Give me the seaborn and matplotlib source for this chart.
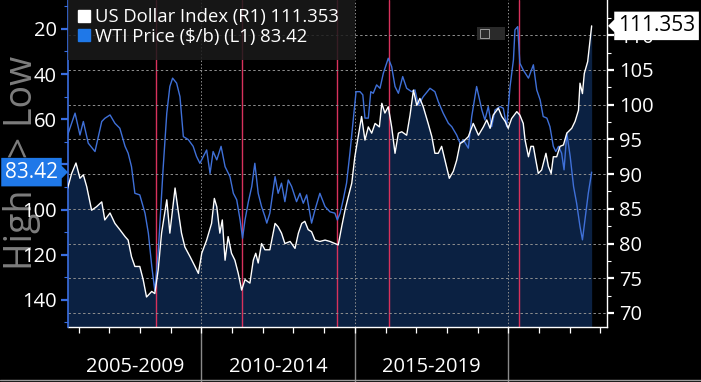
import numpy as np
import pandas as pd
import matplotlib
matplotlib.use("Agg")
import matplotlib.pyplot as plt
import matplotlib.transforms as mtransforms
from matplotlib.lines import Line2D
from matplotlib.path import Path
from matplotlib.patches import Rectangle
import seaborn as sns

# ---------------- data ----------------
dxy_dates = [2005.62, 2005.77, 2005.91, 2006.04, 2006.15, 2006.26, 2006.42, 2006.58, 2006.75, 2006.85,
             2007.02, 2007.18, 2007.34, 2007.51, 2007.61, 2007.72, 2007.83, 2007.99, 2008.10, 2008.21,
             2008.38, 2008.48, 2008.59, 2008.70, 2008.87, 2008.97, 2009.14, 2009.24, 2009.35, 2009.46,
             2009.63, 2009.79, 2009.90, 2010.01, 2010.17, 2010.33, 2010.42, 2010.50, 2010.60, 2010.68,
             2010.77, 2010.87, 2010.98, 2011.09, 2011.20, 2011.31, 2011.42, 2011.58, 2011.69, 2011.77,
             2011.85, 2011.96, 2012.07, 2012.23, 2012.40, 2012.50, 2012.61, 2012.72, 2012.89, 2013.05,
             2013.16, 2013.27, 2013.37, 2013.48, 2013.59, 2013.70, 2013.86, 2014.03, 2014.19, 2014.35,
             2014.46, 2014.57, 2014.68, 2014.79, 2014.90, 2015.00, 2015.11, 2015.22, 2015.33, 2015.44,
             2015.55, 2015.66, 2015.80, 2015.88, 2015.98, 2016.09, 2016.20, 2016.31, 2016.42, 2016.53,
             2016.69, 2016.80, 2016.91, 2017.02, 2017.12, 2017.23, 2017.39, 2017.51, 2017.61, 2017.72,
             2017.83, 2017.94, 2018.08, 2018.21, 2018.32, 2018.43, 2018.54, 2018.70, 2018.86, 2019.03,
             2019.19, 2019.30, 2019.41, 2019.51, 2019.68, 2019.79, 2019.90, 2020.00, 2020.11, 2020.28,
             2020.38, 2020.49, 2020.55, 2020.66, 2020.74, 2020.82, 2020.90, 2020.98, 2021.09, 2021.23,
             2021.31, 2021.40, 2021.47, 2021.58, 2021.69, 2021.80, 2021.91, 2022.07, 2022.18, 2022.29,
             2022.34, 2022.42, 2022.48, 2022.59, 2022.72]
dxy_values = [87.7, 90.1, 91.6, 89.4, 89.9, 88.2, 84.8, 85.3, 86.0, 83.4,
              84.4, 82.9, 82.0, 81.0, 80.5, 78.1, 76.7, 76.7, 74.8, 72.3,
              73.1, 72.8, 76.2, 81.5, 86.3, 81.5, 88.0, 84.8, 81.5, 79.5,
              78.1, 76.7, 75.7, 78.6, 80.5, 82.9, 86.5, 85.3, 81.5, 83.4,
              77.6, 81.0, 78.6, 77.6, 75.7, 73.3, 74.8, 74.3, 77.6, 78.6,
              77.2, 80.0, 79.1, 79.1, 82.9, 82.4, 81.5, 80.0, 80.3, 79.3,
              81.5, 82.9, 83.2, 82.0, 81.7, 80.5, 80.3, 80.5, 80.3, 80.0,
              79.8, 82.4, 84.8, 86.8, 88.7, 92.5, 95.4, 98.3, 94.9, 96.8,
              95.9, 97.3, 96.8, 100.2, 98.8, 99.7, 96.8, 93.0, 95.9, 96.1,
              95.6, 98.5, 102.1, 99.9, 100.9, 99.7, 97.3, 95.4, 93.0, 93.0,
              94.0, 92.0, 89.4, 90.4, 92.0, 94.4, 94.7, 95.4, 97.3, 95.6,
              96.8, 97.8, 96.6, 98.5, 99.5, 98.3, 97.6, 96.6, 98.0, 99.0,
              98.5, 97.3, 94.9, 92.5, 94.0, 94.0, 92.0, 90.1, 90.6, 93.0,
              91.1, 90.1, 92.5, 92.5, 94.0, 94.2, 95.9, 96.6, 97.6, 99.2,
              103.1, 101.6, 104.5, 106.2, 111.353]

wti_dates = [2005.62, 2005.88, 2006.04, 2006.15, 2006.31, 2006.53, 2006.75, 2006.85, 2007.02, 2007.18,
             2007.34, 2007.51, 2007.61, 2007.72, 2007.83, 2007.99, 2008.16, 2008.27, 2008.38, 2008.48,
             2008.59, 2008.75, 2008.87, 2008.97, 2009.06, 2009.19, 2009.30, 2009.41, 2009.57, 2009.73,
             2009.84, 2009.95, 2010.17, 2010.28, 2010.38, 2010.50, 2010.64, 2010.77, 2010.93, 2011.04,
             2011.15, 2011.26, 2011.34, 2011.42, 2011.53, 2011.64, 2011.74, 2011.85, 2011.96, 2012.07,
             2012.13, 2012.23, 2012.40, 2012.50, 2012.61, 2012.72, 2012.83, 2012.94, 2013.10, 2013.21,
             2013.32, 2013.43, 2013.59, 2013.70, 2013.86, 2014.03, 2014.19, 2014.35, 2014.43, 2014.52,
             2014.62, 2014.73, 2014.84, 2014.95, 2015.04, 2015.17, 2015.26, 2015.33, 2015.44, 2015.52,
             2015.60, 2015.71, 2015.82, 2015.93, 2016.09, 2016.20, 2016.31, 2016.42, 2016.56, 2016.69,
             2016.85, 2016.96, 2017.07, 2017.23, 2017.45, 2017.61, 2017.72, 2017.88, 2018.05, 2018.16,
             2018.32, 2018.43, 2018.54, 2018.70, 2018.81, 2018.97, 2019.14, 2019.24, 2019.35, 2019.46,
             2019.57, 2019.73, 2019.84, 2019.95, 2020.06, 2020.17, 2020.22, 2020.31, 2020.38, 2020.49,
             2020.66, 2020.82, 2020.93, 2021.04, 2021.14, 2021.26, 2021.36, 2021.47, 2021.55, 2021.64,
             2021.74, 2021.82, 2021.91, 2022.02, 2022.13, 2022.23, 2022.34, 2022.42, 2022.50, 2022.61,
             2022.72]
wti_values = [67.7, 57.3, 67.0, 61.0, 70.6, 74.3, 61.0, 59.6, 58.1, 61.8,
              64.0, 72.0, 75.0, 81.0, 92.8, 93.5, 101.6, 110.5, 125.0, 136.0,
              119.0, 82.0, 57.3, 45.5, 41.8, 44.0, 50.0, 67.7, 69.0, 72.0,
              76.5, 79.5, 73.6, 84.0, 74.3, 78.0, 72.0, 81.0, 85.4, 92.8,
              95.7, 104.6, 112.7, 104.6, 96.5, 89.8, 79.5, 92.8, 98.7, 103.1,
              106.0, 101.6, 85.4, 92.8, 88.3, 96.5, 86.9, 89.8, 96.5, 92.8,
              97.2, 93.5, 106.0, 100.2, 92.8, 98.7, 101.0, 101.6, 104.6, 101.6,
              95.7, 88.3, 75.0, 60.3, 47.8, 47.8, 49.2, 59.5, 59.5, 47.8,
              48.5, 44.8, 46.3, 39.6, 33.0, 36.7, 45.5, 48.5, 41.1, 46.3,
              47.8, 47.0, 53.7, 50.0, 46.3, 47.8, 52.2, 57.3, 61.8, 63.3,
              67.0, 70.6, 69.2, 72.8, 58.8, 45.5, 55.9, 60.3, 54.4, 63.3,
              55.9, 54.4, 55.1, 63.3, 45.5, 33.7, 20.4, 19.0, 35.2, 38.2,
              41.8, 35.9, 47.0, 51.4, 58.8, 59.5, 63.3, 72.0, 74.3, 72.0,
              75.0, 82.4, 66.2, 76.5, 89.8, 97.2, 107.5, 113.4, 104.6, 92.8,
              83.42]

event_dates = [2008.51, 2011.33, 2014.41, 2016.10, 2020.34]
period_starts = [2005, 2010, 2015, 2020]
period_labels = ["2005-2009", "2010-2014", "2015-2019", ""]
dxy_label = "US Dollar Index (R1) 111.353"
wti_label = "WTI Price ($/b) (L1) 83.42"
dxy_last = 111.353
wti_last = 83.42

# ---------------- styling ----------------
BG = "black"
NAVY = "#0b2142"
BLUE_LINE = "#3f70d8"
BLUE_AXIS = "#3a6ee0"
BLUE_BOX = "#1f78e8"
RED = "#d8325c"
GRID = "#8f8f8f"

sns.set_theme(style="dark", rc={"axes.facecolor": BG, "figure.facecolor": BG})
plt.rcParams['font.family'] = ['Open Sans', 'DejaVu Sans']

W, H = 701, 382
fig = plt.figure(figsize=(W / 100, H / 100), dpi=100, facecolor=BG)
L, R, B, T = 68, 607, 327, 0
ax = fig.add_axes([L / W, (H - B) / H, (R - L) / W, (B - T) / H])
ax.set_facecolor(BG)

dxy = pd.DataFrame({"date": dxy_dates, "value": dxy_values})
wti = pd.DataFrame({"date": wti_dates, "value": wti_values})

xlim = (2005.65, 2023.22)
dxy_lim = (67.98, 115.08)
wti_lim = (152.0, 7.2)   # inverted: High <> Low

# base axes: DXY area fill (right scale)
ax.fill_between(dxy["date"], dxy["value"], dxy_lim[0] - 5, color=NAVY, lw=0, zorder=1)
ax.set_xlim(*xlim)
ax.set_ylim(*dxy_lim)

# middle axes: WTI line (left scale, inverted)
ax_w = ax.twinx()
sns.lineplot(data=wti, x="date", y="value", ax=ax_w, color=BLUE_LINE, lw=1.0, sort=False)
ax_w.set_ylim(*wti_lim)

# top axes: DXY line
ax_d = ax.twinx()
sns.lineplot(data=dxy, x="date", y="value", ax=ax_d, color="white", lw=1.0, sort=False)
ax_d.set_ylim(*dxy_lim)
ax_d.axis("off")

for a in (ax, ax_w, ax_d):
    a.set_xlim(*xlim)
    a.set_xlabel("")
    a.set_ylabel("")

# right axis (DXY) on base axes
ax.yaxis.tick_right()
ax.set_yticks(np.arange(70, 115, 5))
ax.set_yticks(np.arange(72.5, 115, 5), minor=True)
ax.tick_params(axis="y", which="major", colors="white", labelcolor="white", labelsize=14.5,
               length=5, width=1.6, pad=4, right=True, left=False, direction="out")
ax.tick_params(axis="y", which="minor", colors="white", length=3, width=0.8, right=True, left=False)
ax.yaxis.grid(True, which="major", color=GRID, ls=(0, (2.5, 2.5)), lw=0.7)
ax.set_axisbelow(False)

# x axis
ax.set_xticks(period_starts[1:])
ax.set_xticks(np.arange(2006, 2024, 1), minor=True)
ax.set_xticklabels([])
ax.tick_params(axis="x", which="both", colors="white", length=4, width=0.9, bottom=True, direction="out")
ax.xaxis.grid(True, which="major", color=GRID, ls=(0, (1.5, 2)), lw=0.7)

for side in ("top", "left"):
    ax.spines[side].set_visible(False)
for side in ("right", "bottom"):
    ax.spines[side].set_color("white")
    ax.spines[side].set_linewidth(1.0)

# left axis (WTI)
ax_w.yaxis.tick_left()
ax_w.set_yticks(np.arange(20, 150, 20))
ax_w.set_yticks(np.arange(10, 155, 20), minor=True)
ax_w.tick_params(axis="y", which="major", colors=BLUE_AXIS, labelcolor="white", labelsize=14.5,
                 length=5, width=1.6, pad=3, left=True, right=False)
ax_w.tick_params(axis="y", which="minor", colors=BLUE_AXIS, length=3, width=0.8, left=True, right=False)
ax_w.tick_params(axis="x", which="both", bottom=False, labelbottom=False)
for side in ("top", "right", "bottom"):
    ax_w.spines[side].set_visible(False)
ax_w.spines["left"].set_color(BLUE_AXIS)
ax_w.spines["left"].set_linewidth(1.2)
ax_w.grid(False)

# event lines
for d in event_dates:
    ax.axvline(d, color=RED, lw=1.0, zorder=2)

# period separators and labels below the axis
blend = mtransforms.blended_transform_factory(ax.transData, ax.transAxes)
for s, lab in zip(period_starts, period_labels):
    if s > xlim[0]:
        ax.axvline(s, ymin=-(H - B) / B, ymax=0, color="#8a8a8a", lw=1.0, clip_on=False)
    lo, hi = max(s, xlim[0]), min(s + 5, xlim[1])
    if lab:
        ax.text((lo + hi) / 2, -39.5 / B, lab, transform=blend, ha="center", va="center",
                color="white", fontsize=14.5)
fig.add_artist(Line2D([0, 1], [2 / H, 2 / H], transform=fig.transFigure, color="#9a9a9a", lw=1.0))

# legend panel (semi-transparent) and entries
ax_d.add_patch(Rectangle((0, 1 - 60 / B), (355 - L) / (R - L), 60 / B, transform=ax_d.transAxes,
                         facecolor="#1a1a1a", edgecolor="none", alpha=0.85, zorder=10))
handles = [Line2D([], [], marker="s", ls="", color="white", markersize=9),
           Line2D([], [], marker="s", ls="", color=BLUE_BOX, markersize=9)]
leg = ax_d.legend(handles, [dxy_label, wti_label], loc="upper left",
                  bbox_to_anchor=((77 - L) / (R - L), 1 - 8 / B),
                  borderaxespad=0, borderpad=0, frameon=False, fontsize=13.3, labelcolor="white",
                  handlelength=0.75, handletextpad=0.25, labelspacing=0.1)
leg.set_zorder(20)

# small chart-menu icon
ax_d.add_patch(Rectangle(((477 - L) / (R - L), 1 - 40 / B), 28 / (R - L), 13 / B,
                         transform=ax_d.transAxes, facecolor="#2a2a2a", edgecolor="none", zorder=15))
ax_d.add_patch(Rectangle(((480 - L) / (R - L), 1 - 38 / B), 9 / (R - L), 9 / B,
                         transform=ax_d.transAxes, facecolor="none", edgecolor="#9a9a9a", lw=0.7, zorder=16))


# value tags with a small pointer
def tag_box(side):
    def style(x0, y0, width, height, mutation_size):
        pad = 0.18 * mutation_size
        x0, y0 = x0 - pad, y0 - pad
        x1, y1 = x0 + width + 2 * pad, y0 + height + 2 * pad
        ym = (y0 + y1) / 2
        tip = 0.3 * mutation_size
        hh = 0.3 * mutation_size
        if side == "left":
            v = [(x0, y0), (x1, y0), (x1, y1), (x0, y1), (x0, ym + hh), (x0 - tip, ym), (x0, ym - hh), (x0, y0)]
        else:
            v = [(x0, y0), (x1, y0), (x1, ym - hh), (x1 + tip, ym), (x1, ym + hh), (x1, y1), (x0, y1), (x0, y0)]
        return Path(v, closed=True)
    return style


ax_d.annotate(f"{dxy_last:.3f}", xy=(1, dxy_last), xycoords=("axes fraction", "data"),
              xytext=(11, 0), textcoords="offset pixels", ha="left", va="center",
              color="black", fontsize=15, annotation_clip=False, zorder=30,
              bbox=dict(boxstyle=tag_box("left"), fc="white", ec="none"))
ax_w.annotate(f"{wti_last:.2f}", xy=(0, wti_last), xycoords=("axes fraction", "data"),
              xytext=(-10, 0), textcoords="offset pixels", ha="right", va="center",
              color="white", fontsize=15, annotation_clip=False, zorder=30,
              bbox=dict(boxstyle=tag_box("right"), fc=BLUE_BOX, ec="none"))

# vertical axis caption
fig.text(22 / W, 1 - 163 / H, "High <> Low", rotation=90, ha="center", va="center",
         fontsize=27, color="#7d7d7d", zorder=-1)

fig.savefig("out.png", dpi=100, facecolor=BG)
